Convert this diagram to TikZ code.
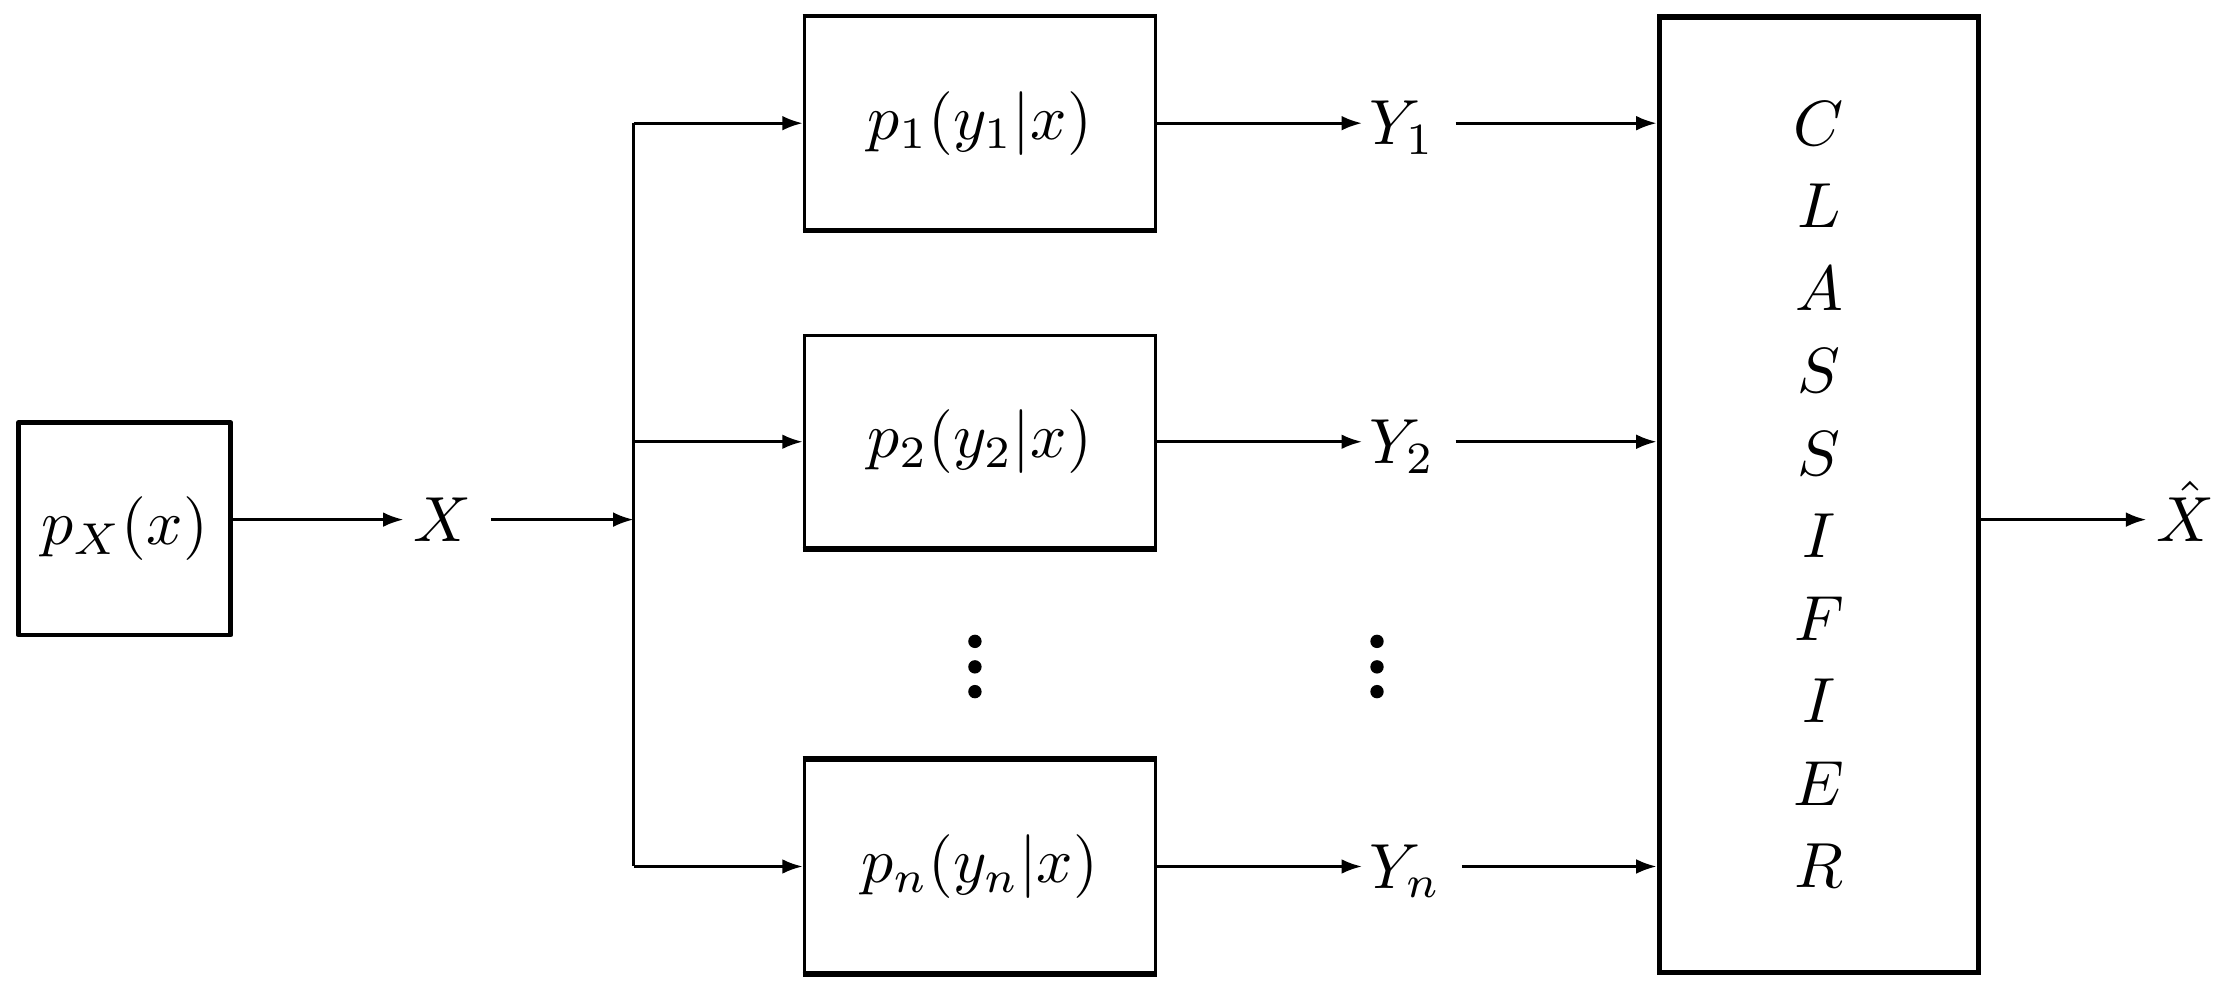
\documentclass[tikz,border=0pt]{standalone}
\usetikzlibrary{arrows.meta}
\tikzset{
  arr/.style={-{Latex[length=3.2pt,width=2.3pt]}, line width=0.42pt},
  wire/.style={line width=0.42pt},
  srcbox/.style={draw, line width=0.75pt, line join=round, inner sep=0pt,
    minimum width=33.3pt, minimum height=33.3pt},
  chanbox/.style={draw, line width=0.45pt, inner sep=0pt,
    minimum width=55.06pt, minimum height=33.3pt},
  clsbox/.style={draw, line width=0.85pt, inner sep=0pt,
    minimum width=50.08pt, minimum height=149.85pt, align=center,
    font=\fontsize{10}{12.94}\selectfont},
  lab/.style={inner sep=1.4pt, text height=6.83pt, text depth=0pt, anchor=west},
  ylab/.style={lab, inner sep=0.9pt},
  heavyedge/.style={line width=0.8pt},
  dot/.style={fill=black},
}
\begin{document}
\begin{tikzpicture}[x=0.222pt,y=-0.222pt]
\useasboundingbox (0,0) rectangle (1568,698.5);

% source
\node[srcbox] (px) at (88,373.5) {$p_X(x)$};
\node[lab] (X) at (285,367) {$X$};

% splitter
\coordinate (top) at (447.5,87);
\coordinate (mid) at (447.5,312);
\coordinate (split) at (447.5,367);
\coordinate (bot) at (447.5,612);

% channels
\node[chanbox] (b1) at (692,87) {$p_1(y_1|x)$};
\node[chanbox] (b2) at (692,312) {$p_2(y_2|x)$};
\node[chanbox] (bn) at (692,612) {$p_n(y_n|x)$};
\draw[line width=0.6pt] (b1.north west) -- (b1.north east);
\draw[line width=0.6pt] (b1.south west) -- (b1.south east);
\draw[heavyedge] (b2.south west) -- (b2.south east);
\draw[heavyedge] (bn.north west) -- (bn.north east);
\draw[heavyedge] (bn.south west) -- (bn.south east);

% outputs
\node[ylab] (Y1) at (962,87) {$Y_1$};
\node[ylab] (Y2) at (962,312) {$Y_2$};
\node[ylab] (Yn) at (962,612) {$Y_n$};

% classifier
\node[clsbox] (cls) at (1284.8,349.5)
  {$C$\\$L$\\$A$\\$S$\\$S$\\$I$\\$F$\\$I$\\$E$\\$R$};
\node[inner sep=1.4pt, anchor=base west] (Xh) at (1516,382.4) {$\hat{X}$};

% dots
\foreach \yy in {453,471,488.5} {
  \fill[dot] (688.6,\yy) circle[radius=1.05pt];
  \fill[dot] (972.6,\yy) circle[radius=1.05pt];
}

% connectors
\draw[arr] (px.east |- X.west) -- (X.west);
\draw[arr, shorten <=1.5pt] (X.east) -- (split);
\draw[wire] (top) -- (bot);
\draw[arr] (top) -- (b1.west);
\draw[arr] (mid) -- (b2.west);
\draw[arr] (bot) -- (bn.west);
\draw[arr] (b1.east) -- (Y1.west);
\draw[arr] (b2.east) -- (Y2.west);
\draw[arr] (bn.east) -- (Yn.west);
\draw[arr, shorten <=2.2pt] (Y1.east) -- (cls.west |- Y1.east);
\draw[arr, shorten <=2.2pt] (Y2.east) -- (cls.west |- Y2.east);
\draw[arr, shorten <=2.2pt] (Yn.east) -- (cls.west |- Yn.east);
\draw[arr] (cls.east |- X.east) -- (Xh.west |- X.east);
\end{tikzpicture}
\end{document}
